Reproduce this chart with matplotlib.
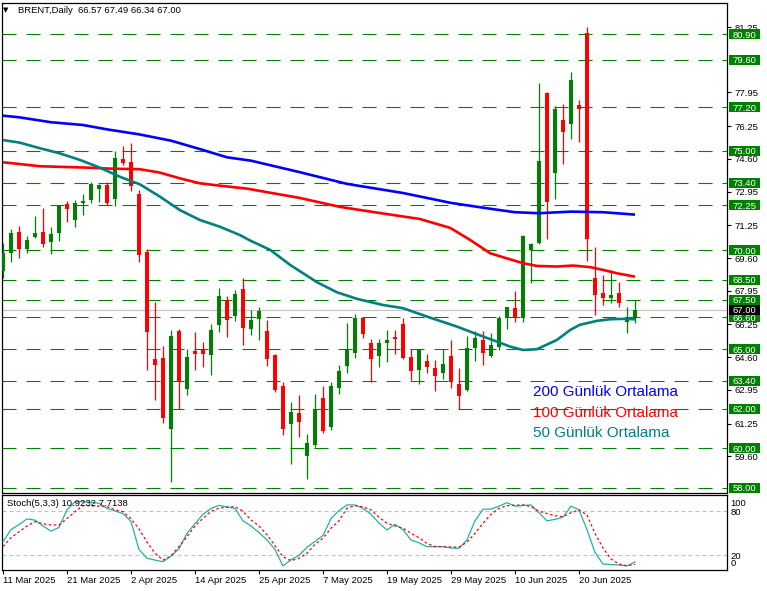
import matplotlib
matplotlib.use('Agg')
import matplotlib.pyplot as plt
import matplotlib.transforms as mtransforms
from matplotlib.patches import Rectangle
import numpy as np

plt.rcParams['font.family'] = ['Liberation Sans', 'DejaVu Sans']

# ---------------- data ----------------
opens = [68.96, 69.87, 70.92, 70.07, 70.65, 70.92, 70.41, 70.88, 72.33, 71.52,
         72.39, 72.53, 73.10, 73.30, 72.60, 74.58, 74.45, 72.83, 69.91, 64.51,
         64.56, 60.98, 65.92, 63.01, 64.91, 64.96, 64.71, 66.23, 67.49, 66.68,
         68.04, 66.04, 66.54, 65.92, 64.71, 63.15, 61.25, 61.79, 59.63, 60.17,
         62.54, 61.05, 63.06, 64.16, 64.83, 66.58, 65.32, 64.68, 65.33, 65.60,
         66.28, 64.61, 63.97, 64.41, 64.06, 63.82, 64.66, 63.25, 62.96, 65.08,
         65.47, 64.68, 65.13, 66.59, 67.08, 66.56, 70.01, 70.38, 77.94, 73.91,
         76.56, 76.38, 77.32, 80.97, 68.61, 67.82, 67.60, 67.82, 66.39, 66.57]
highs = [70.35, 71.07, 71.22, 70.71, 71.72, 72.13, 71.17, 72.28, 72.46, 72.53,
         72.83, 73.45, 73.35, 73.45, 75.02, 75.25, 75.39, 73.03, 70.04, 67.39,
         65.17, 65.97, 66.02, 65.02, 65.87, 65.37, 66.28, 68.08, 67.69, 67.99,
         68.58, 66.98, 67.12, 66.48, 64.76, 63.32, 62.34, 62.70, 60.73, 62.75,
         63.15, 63.35, 64.21, 66.33, 66.78, 66.60, 65.52, 65.52, 65.97, 65.97,
         66.56, 65.00, 65.00, 64.76, 64.46, 65.03, 65.47, 64.06, 65.67, 65.92,
         65.92, 65.81, 66.65, 67.15, 67.96, 70.76, 70.35, 78.43, 78.00, 77.27,
         77.37, 79.00, 77.57, 81.27, 70.16, 68.75, 69.00, 68.41, 67.15, 67.49]
lows = [68.58, 69.42, 69.62, 69.87, 70.60, 70.17, 69.82, 70.48, 71.43, 71.18,
        71.77, 72.39, 72.44, 72.28, 72.23, 74.28, 73.00, 69.42, 63.96, 62.44,
        61.30, 58.32, 61.97, 62.71, 63.96, 64.11, 63.70, 65.89, 65.59, 66.44,
        65.23, 65.74, 65.47, 64.16, 62.86, 60.68, 59.23, 60.59, 58.47, 60.07,
        60.78, 60.93, 62.75, 63.82, 64.58, 65.57, 63.35, 64.12, 64.36, 64.78,
        64.51, 63.45, 63.25, 63.82, 62.91, 63.49, 63.06, 61.97, 62.90, 64.41,
        64.21, 64.60, 64.96, 66.00, 66.39, 66.39, 68.33, 70.31, 70.58, 72.56,
        74.36, 75.59, 75.47, 69.47, 66.73, 67.23, 67.32, 67.15, 65.84, 66.34]
closes = [69.84, 70.85, 70.07, 70.51, 70.85, 70.31, 70.82, 72.23, 72.09, 72.36,
          72.49, 73.34, 73.30, 72.39, 74.65, 74.41, 73.24, 69.77, 65.89, 64.22,
          61.55, 65.67, 63.37, 64.61, 64.78, 64.78, 65.97, 67.69, 66.49, 67.79,
          66.09, 66.48, 66.93, 64.48, 62.95, 60.98, 61.82, 61.35, 60.27, 61.97,
          60.88, 63.15, 63.91, 64.95, 66.56, 65.79, 64.53, 65.32, 65.47, 65.52,
          64.56, 63.92, 64.96, 64.12, 63.67, 64.26, 63.32, 62.66, 65.07, 65.57,
          64.83, 65.22, 66.59, 67.12, 66.56, 70.71, 70.31, 74.50, 72.44, 77.12,
          75.97, 78.58, 77.13, 70.58, 67.74, 67.60, 67.74, 67.35, 66.61, 67.00]

# moving averages (bar index, value)
ma200_idx = [0, 2, 6, 10, 13, 17, 21, 25, 28, 31, 37, 43, 50, 56, 61, 64, 67, 71, 75, 79]
ma200_val = [76.78, 76.70, 76.45, 76.31, 76.09, 75.84, 75.52, 75.05, 74.68, 74.51,
             73.94, 73.34, 72.88, 72.38, 72.08, 71.91, 71.86, 71.94, 71.91, 71.79]
ma100_idx = [0, 2.1, 4.6, 8, 10.5, 13.4, 17.1, 19.6, 22.1, 24.6, 27.1, 30.5, 37.1, 42.1,
             47.1, 52.1, 55.9, 58.4, 60.9, 62.5, 65, 66.75, 69.25, 71.25, 73.4, 75, 76.75, 79]
ma100_val = [74.43, 74.34, 74.23, 74.19, 74.16, 74.11, 74.08, 73.91, 73.62, 73.37, 73.25,
             73.10, 72.63, 72.18, 71.87, 71.57, 71.12, 70.51, 69.84, 69.64, 69.34, 69.20,
             69.17, 69.22, 69.14, 69.00, 68.83, 68.66]
ma50_idx = [0, 2.1, 4.6, 7.1, 9.6, 12.1, 14.6, 17.1, 19.6, 22.1, 24.6, 27.1, 29.6, 30.9,
            33.4, 35.9, 39.25, 41.75, 44.25, 47.5, 50, 53.4, 56.75, 60, 62.1, 63.4, 65,
            66.75, 69.25, 70.9, 72.1, 74.25, 75.9, 77.5, 79]
ma50_val = [75.55, 75.42, 75.14, 74.88, 74.55, 74.16, 73.70, 73.32, 72.70, 72.02, 71.52,
            71.18, 70.76, 70.48, 70.01, 69.25, 68.38, 67.87, 67.54, 67.23, 67.07, 66.59,
            66.14, 65.64, 65.33, 65.13, 64.96, 65.00, 65.47, 65.97, 66.23, 66.43, 66.51,
            66.53, 66.51]

stoch_main = [38.6, 55, 62, 69.6, 68, 60, 53, 58, 82, 93,
              93, 92, 91, 84, 80.5, 77, 66, 28, 16, 13.5,
              11.3, 19, 29, 50, 63, 76, 84, 88, 86, 84,
              67, 60, 51, 41, 28, 5.5, 14, 20, 31, 39,
              47, 70, 81, 88.7, 88.7, 84, 76, 64, 54.6, 62.3,
              55, 41, 37, 31.8, 31.8, 31.8, 30, 29.6, 41, 67,
              82.8, 83, 87, 91.8, 87, 88, 88.7, 78, 67, 69,
              71.9, 87, 82, 55, 24, 8.2, 7.4, 6.8, 5.5, 10.9]
stoch_signal = [32, 44, 52, 60, 65.9, 63, 61.4, 61.4, 70, 79.5,
                87.7, 87.5, 87, 86.4, 82, 79.5, 70, 56, 38, 22.8,
                13.6, 19, 32, 45.4, 60, 70.5, 80, 84.2, 85.5, 86.4,
                80, 68.2, 60, 48, 33, 18.1, 12.7, 16, 22.8, 35,
                43.2, 57, 67, 84.2, 87.7, 86, 82, 72, 63.7, 60,
                57, 50, 44, 36, 32, 31.8, 31.4, 31, 38, 50,
                63.7, 76, 84, 87.7, 88.2, 88.7, 86.4, 80, 77, 74,
                72.7, 78, 81.9, 75, 50, 30, 15, 8.2, 5.9, 7.7]

levels = [80.90, 79.60, 77.20, 75.00, 73.40, 72.25, 70.00, 68.50, 67.50, 66.60,
          65.00, 63.40, 62.00, 60.00, 58.00]
level_labels = ["80.90", "79.60", "77.20", "75.00", "73.40", "72.25", "70.00", "68.50",
                "67.50", "66.60", "65.00", "63.40", "62.00", "60.00", "58.00"]
price_ticks = [81.25, 77.95, 76.25, 74.60, 72.95, 71.25, 69.60, 67.95, 66.25, 64.60,
               62.95, 61.25, 59.60]
price_tick_labels = ["81.25", "77.95", "76.25", "74.60", "72.95", "71.25", "69.60",
                     "67.95", "66.25", "64.60", "62.95", "61.25", "59.60"]
last_price = 67.00

date_tick_idx = [0, 8, 16, 24, 32, 40, 48, 56, 64, 72]
date_tick_labels = ["11 Mar 2025", "21 Mar 2025", "2 Apr 2025", "14 Apr 2025", "25 Apr 2025",
                    "7 May 2025", "19 May 2025", "29 May 2025", "10 Jun 2025", "20 Jun 2025"]

title_text = "BRENT,Daily  66.57 67.49 66.34 67.00"
stoch_text = "Stoch(5,3,3) 10.9232 7.7138"
legend_texts = ["200 Günlük Ortalama", "100 Günlük Ortalama", "50 Günlük Ortalama"]

# ---------------- layout ----------------
W, H = 767, 591
fig = plt.figure(figsize=(W / 100, H / 100), dpi=100)
fig.patch.set_facecolor('white')


def px_rect(l, t, r, b):
    return [l / W, 1 - b / H, (r - l) / W, (b - t) / H]


ax = fig.add_axes(px_rect(1.7, 2.7, 727.3, 493.3))
sax = fig.add_axes(px_rect(1.7, 495.3, 727.3, 570.0))

XL = (-0.16, 90.54)
ax.set_xlim(*XL)
ax.set_ylim(57.73, 82.48)
sax.set_xlim(*XL)
sax.set_ylim(0, 101.8)

for a in (ax, sax):
    for s in a.spines.values():
        s.set_linewidth(0.9)
        s.set_color('black')

GREEN = '#008000'
RED = '#FF0000'

# horizontal levels
for lvl in levels:
    ax.axhline(lvl, color=GREEN, lw=0.8, ls=(0, (12.6, 9)), zorder=1)
ax.axhline(last_price, color='#C0C0C0', lw=0.8, zorder=1)

# candles
n = len(opens)
x = np.arange(n)
o = np.array(opens); h = np.array(highs); l = np.array(lows); c = np.array(closes)
cols = [GREEN if cc >= oo else RED for oo, cc in zip(o, c)]
ax.vlines(x, l, h, colors=cols, lw=0.9, zorder=3)
bottoms = np.minimum(o, c)
heights = np.maximum(np.abs(c - o), 0.06)
ax.bar(x, heights, bottom=bottoms, width=0.6, color=cols, linewidth=0, zorder=4)

# moving averages
ax.plot(ma200_idx, ma200_val, color='#0000FF', lw=1.9, zorder=5, solid_capstyle='butt')
ax.plot(ma100_idx, ma100_val, color=RED, lw=1.9, zorder=5, solid_capstyle='butt')
ax.plot(ma50_idx, ma50_val, color='#008080', lw=1.9, zorder=5, solid_capstyle='butt')

# right price axis
ax.yaxis.tick_right()
ax.set_yticks(price_ticks)
ax.set_yticklabels(price_tick_labels)
ax.tick_params(axis='y', direction='out', length=3, width=0.8, labelsize=6.8, pad=2)
ax.tick_params(axis='x', bottom=False, labelbottom=False)

trans = mtransforms.blended_transform_factory(ax.transAxes, ax.transData)
axw = 727.3 - 1.7
bx = (729 - 1.7) / axw
bw = 31 / axw
bh = 10 / 19.83
for lvl, lab in zip(levels, level_labels):
    ax.add_patch(Rectangle((bx, lvl - bh / 2), bw, bh, transform=trans, clip_on=False,
                           facecolor=GREEN, edgecolor='none', zorder=10))
    ax.text(bx + bw / 2, lvl, lab, transform=trans, clip_on=False, ha='center',
            va='center_baseline', color='white', fontsize=6.8, zorder=11)
ax.add_patch(Rectangle((bx, last_price - bh / 2), bw, bh, transform=trans, clip_on=False,
                       facecolor='black', edgecolor='none', zorder=10))
ax.text(bx + bw / 2, last_price, f"{last_price:.2f}", transform=trans, clip_on=False,
        ha='center', va='center_baseline', color='white', fontsize=6.8, zorder=11)

# title and legend texts
fig.text(3 / W, 1 - 10.5 / H, "▼", fontsize=5, va='center', ha='left',
         family=['DejaVu Sans'])
fig.text(18 / W, 1 - 10.5 / H, title_text, fontsize=6.8, va='center', ha='left')
leg_cols = ['#0000FF', RED, '#008080']
leg_y = [392, 413, 433]
for t, colr, yy in zip(legend_texts, leg_cols, leg_y):
    fig.text(533 / W, 1 - yy / H, t, fontsize=11, color=colr, va='center', ha='left')

# stochastic panel
sax.axhline(80, color='#C0C0C0', lw=0.8, ls=(0, (3.6, 2.7)), zorder=1)
sax.axhline(20, color='#C0C0C0', lw=0.8, ls=(0, (3.6, 2.7)), zorder=1)
sax.plot(x, stoch_main, color='#20B2AA', lw=0.9, zorder=3)
sax.plot(x, stoch_signal, color=RED, lw=0.9, ls=(0, (2, 2)), zorder=3)
sax.text((7.3 - 1.7) / axw, (570 - 504) / 74.7, stoch_text, transform=sax.transAxes,
         fontsize=6.8, va='center', ha='left')
sax.yaxis.tick_right()
sax.set_yticks([91.8, 80, 20, 10])
sax.set_yticklabels(['100', '80', '20', '0'])
sax.tick_params(axis='y', length=0, labelsize=6.8, pad=2.5)
sax.set_xticks(date_tick_idx)
sax.set_xticklabels(date_tick_labels)
sax.tick_params(axis='x', direction='out', length=3, width=0.8, labelsize=6.8, pad=1.5)
for lab in sax.get_xticklabels():
    lab.set_ha('left')

fig.savefig('out.png', dpi=100, facecolor='white')
